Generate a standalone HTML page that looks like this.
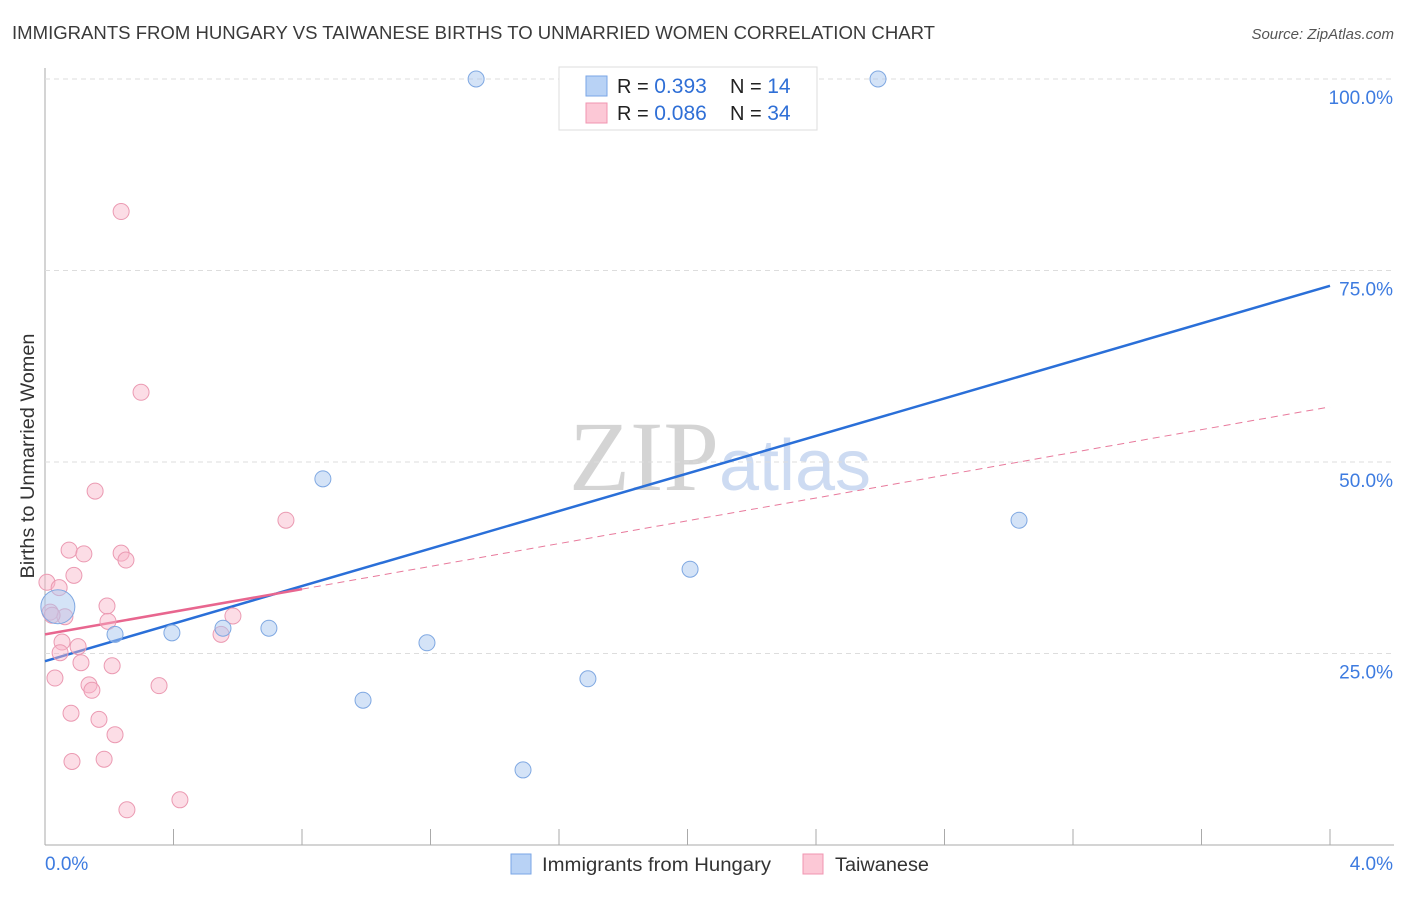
<!DOCTYPE html>
<html><head><meta charset="utf-8"><style>
body{margin:0;background:#fff;font-family:"Liberation Sans",sans-serif;}
svg text{font-family:"Liberation Sans",sans-serif;}
</style></head><body>
<svg id="chart" width="1406" height="892" xmlns="http://www.w3.org/2000/svg">
<text x="12" y="39" font-size="18" fill="#3a3a3a" textLength="923" lengthAdjust="spacingAndGlyphs">IMMIGRANTS FROM HUNGARY VS TAIWANESE BIRTHS TO UNMARRIED WOMEN CORRELATION CHART</text>
<text x="1394" y="39" font-size="15" fill="#555" font-style="italic" text-anchor="end">Source: ZipAtlas.com</text>
<text x="720" y="490" font-size="100" text-anchor="middle"><tspan fill="#d4d4d4" font-family="Liberation Serif">ZIP</tspan><tspan fill="#cddbf2" font-size="72">atlas</tspan></text>
<text transform="translate(34,456) rotate(-90)" font-size="19" fill="#333" text-anchor="middle" textLength="245" lengthAdjust="spacingAndGlyphs">Births to Unmarried Women</text>
<g id="grid"></g><g id="lines"></g><g id="pts"></g>
<g>
<rect x="559" y="67" width="258" height="63" fill="#fff" stroke="#ddd"/>
<rect x="586" y="76" width="21" height="20" fill="#b8d2f5" stroke="#7aa6e6"/>
<rect x="586" y="103" width="21" height="20" fill="#fcc8d6" stroke="#f095b0"/>
<text x="617" y="93" font-size="20" fill="#222">R = <tspan fill="#2f6fd6" font-size="21">0.393</tspan></text>
<text x="730" y="93" font-size="20" fill="#222">N = <tspan fill="#2f6fd6" font-size="21"> 14</tspan></text>
<text x="617" y="120" font-size="20" fill="#222">R = <tspan fill="#2f6fd6" font-size="21">0.086</tspan></text>
<text x="730" y="120" font-size="20" fill="#222">N = <tspan fill="#2f6fd6" font-size="21">34</tspan></text>
</g>
<g>
<rect x="511" y="854" width="20" height="20" fill="#b8d2f5" stroke="#7aa6e6"/>
<text x="542" y="871" font-size="19" fill="#333" textLength="229" lengthAdjust="spacingAndGlyphs">Immigrants from Hungary</text>
<rect x="803" y="854" width="20" height="20" fill="#fcc8d6" stroke="#f095b0"/>
<text x="835" y="871" font-size="19" fill="#333" textLength="94" lengthAdjust="spacingAndGlyphs">Taiwanese</text>
</g>
</svg>
<script>
const xTicks=[0,0.4,0.8,1.2,1.6,2.0,2.4,2.8,3.2,3.6,4.0];
const yTicks=[25,50,75,100];
const yTickLabels=["25.0%","50.0%","75.0%","100.0%"];
const hungaryX=[1.342,2.593,0.865,3.032,2.008,0.04,0.218,0.395,0.554,0.697,1.189,0.990,1.690,1.488];
const hungaryY=[100,100,47.8,42.4,36.0,31.1,27.5,27.7,28.3,28.3,26.4,18.9,21.7,9.8];
const taiwanX=[0.237,0.299,0.156,0.750,0.075,0.121,0.237,0.252,0.090,0.006,0.044,0.193,0.016,0.062,0.585,0.196,0.548,0.053,0.103,0.047,0.112,0.209,0.031,0.137,0.355,0.146,0.081,0.168,0.218,0.084,0.184,0.420,0.255,0.022];
const taiwanY=[82.7,59.1,46.2,42.4,38.5,38.0,38.1,37.2,35.2,34.3,33.6,31.2,30.4,29.8,29.9,29.2,27.5,26.5,25.9,25.1,23.8,23.4,21.8,20.9,20.8,20.2,17.2,16.4,14.4,10.9,11.2,5.9,4.6,30.0];
const hungaryLine=[0,24.0,4,73.0];
const taiwanLine=[0,27.5,0.8,33.4,4,57.2];
const X=v=>45+v/4*1285, Y=v=>845-v*7.66;
const NS="http://www.w3.org/2000/svg";
function mk(p,t,a){const e=document.createElementNS(NS,t);for(const k in a)e.setAttribute(k,a[k]);p.appendChild(e);return e;}
const g=document.getElementById('grid');
const ax=mk(g,'line',{x1:45,y1:68,x2:45,y2:845,stroke:'#aaa'});


const bx=mk(g,'line',{x1:45,y1:845,x2:1394,y2:845,stroke:'#aaa'});


yTicks.forEach((t,i)=>{
 const l=mk(g,'line',{x1:45,y1:Y(t),x2:1394,y2:Y(t),stroke:'#ddd','stroke-dasharray':'5,4'});
 
 
 const tx=mk(g,'text',{x:1393,y:Y(t)+25,'font-size':19,fill:'#3d7be0','text-anchor':'end'});
 tx.textContent=yTickLabels[i];
 
 
});
xTicks.forEach(t=>{
 const l=mk(g,'line',{x1:X(t),y1:829,x2:X(t),y2:845,stroke:'#aaa'});
 
 
});
const x0=mk(g,'text',{x:45,y:870,'font-size':19,fill:'#3d7be0'});x0.textContent='0.0%';


const x1=mk(g,'text',{x:1393,y:870,'font-size':19,fill:'#3d7be0','text-anchor':'end'});x1.textContent='4.0%';


const P=document.getElementById('pts');
taiwanX.forEach((v,i)=>{
 const c=mk(P,'circle',{cx:X(v),cy:Y(taiwanY[i]),r:8,fill:'rgba(248,180,200,0.45)',stroke:'#eb9ab2','stroke-width':1});
 
 
});
hungaryX.forEach((v,i)=>{
 const c=mk(P,'circle',{cx:X(v),cy:Y(hungaryY[i]),r:i==5?17:8,fill:'rgba(170,200,240,0.5)',stroke:'#7fa8e2','stroke-width':1});
 
 
});
const L=document.getElementById('lines');
const tl=mk(L,'line',{x1:X(taiwanLine[2]),y1:Y(taiwanLine[3]),x2:X(taiwanLine[4]),y2:Y(taiwanLine[5]),stroke:'#e87a9c','stroke-width':1,'stroke-dasharray':'7,5'});


const hl=mk(L,'line',{x1:X(hungaryLine[0]),y1:Y(hungaryLine[1]),x2:X(hungaryLine[2]),y2:Y(hungaryLine[3]),stroke:'#2a6fd8','stroke-width':2.5});


const ts=mk(L,'line',{x1:X(taiwanLine[0]),y1:Y(taiwanLine[1]),x2:X(taiwanLine[2]),y2:Y(taiwanLine[3]),stroke:'#e8668f','stroke-width':2.5});


</script>
</body></html>
